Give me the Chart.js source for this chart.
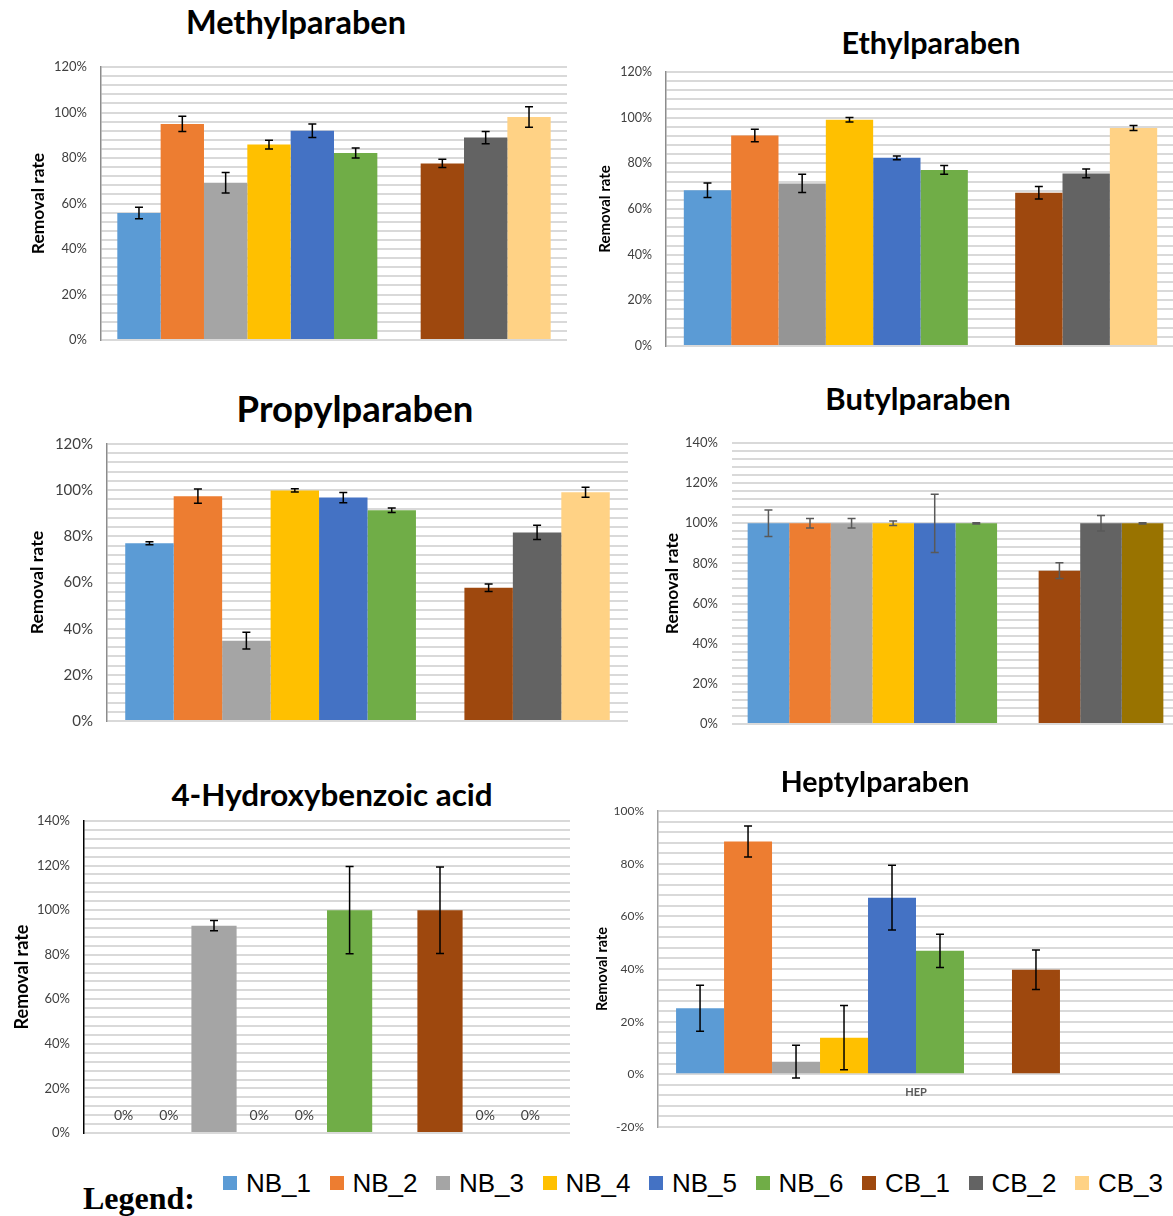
<!DOCTYPE html>
<html>
<head>
<meta charset="utf-8">
<title>Removal rates</title>
<script src="https://cdn.jsdelivr.net/npm/chart.js@4.4.1/dist/chart.umd.min.js"></script>
<style>
  html, body { margin: 0; padding: 0; background: #fff; }
  body { position: relative; width: 1173px; height: 1216px; overflow: hidden; font-family: Lato, 'Open Sans', sans-serif; }
  canvas.panel { position: absolute; }
  .ptitle { position: absolute; width: 600px; text-align: center; font-weight: bold; color: #000; white-space: nowrap; }
  #legend { position: absolute; left: 223px; top: 1168px; display: flex; }
  .item { width: 106.5px; display: flex; align-items: center; font-family: 'Liberation Sans Narrow', 'Arial Narrow', sans-serif; font-size: 26px; line-height: 30px; color: #000; }
  .sw { width: 14px; height: 14px; margin-right: 9px; flex: none; }
  #legendWord { position: absolute; left: 83px; top: 1182px; font-family: 'Liberation Serif', 'Times New Roman', serif; font-weight: bold; font-size: 32px; line-height: 32px; }
</style>
</head>
<body>
<div id="legendWord">Legend:</div>
<div id="legend"></div>
<script>
// series shown in every panel (NB = one treatment group, CB = the other)
const seriesNames = ['NB_1', 'NB_2', 'NB_3', 'NB_4', 'NB_5', 'NB_6', 'CB_1', 'CB_2', 'CB_3'];
const seriesColors = ['#5B9BD5', '#ED7D31', '#A5A5A5', '#FFC000', '#4472C4', '#70AD47', '#9E480E', '#636363', '#FFD285'];

// removal rate in % and its error bar (+/- %), in the order of seriesNames
const methylRates = [55.8, 95.0, 69.1, 85.9, 92.0, 82.2, 77.6, 89.0, 98.0];
const methylErr   = [2.5, 3.4, 4.5, 1.9, 3.0, 2.2, 1.8, 2.7, 4.5];
const ethylRates  = [68.2, 92.2, 71.2, 99.1, 82.4, 77.1, 67.1, 75.6, 95.5];
const ethylErr    = [3.2, 2.7, 4.0, 1.0, 0.8, 1.9, 2.7, 1.9, 1.1];
const propylRates = [77.0, 97.4, 34.8, 99.9, 96.8, 91.3, 57.7, 81.7, 99.1];
const propylErr   = [0.6, 3.1, 3.6, 0.7, 2.2, 1.0, 1.6, 3.1, 2.2];
const butylRates  = [100, 100, 100, 100, 100, 100, 76.4, 100, 100];
const butylErr    = [6.6, 2.4, 2.4, 1.1, 14.5, 0.3, 3.9, 3.9, 0.3];
const hbaRates    = [0, 0, 93.0, 0, 0, 100, 100, 0, 0];
const hbaErr      = [0, 0, 2.3, 0, 0, 19.6, 19.4, 0, 0];
const heptylRates = [25.1, 88.4, 4.8, 13.9, 67.1, 46.9, 39.7, null, null];
const heptylErr   = [8.7, 5.9, 6.2, 12.2, 12.3, 6.3, 7.5, null, null];

// y axis ranges (%), labelled every 20 %, gridlines every 4 %
const methylRange = [0, 120];
const ethylRange  = [0, 120];
const propylRange = [0, 120];
const butylRange  = [0, 140];
const hbaRange    = [0, 140];
const heptylRange = [-20, 100];
const yAxisTitle = 'Removal rate';

// legend
const legendEl = document.getElementById('legend');
seriesNames.forEach((name, i) => {
  const it = document.createElement('div');
  it.className = 'item';
  it.innerHTML = '<span class="sw" style="background:' + seriesColors[i] + '"></span><span>' + name + '</span>';
  legendEl.appendChild(it);
});

function buildDatasets(rates, errs, colors) {
  const sets = [];
  seriesNames.forEach((name, i) => {
    // empty slot between the NB and CB groups
    if (i === 6) sets.push({ label: '', data: [null], backgroundColor: 'rgba(0,0,0,0)' });
    sets.push({ label: name, data: [rates[i]], errors: [errs[i]], backgroundColor: colors[i], borderWidth: 0 });
  });
  return sets;
}

const errorBarPlugin = {
  id: 'errorBars',
  afterDatasetsDraw(chart, args, opts) {
    const ctx = chart.ctx, y = chart.scales.y;
    ctx.save();
    ctx.strokeStyle = opts.color || '#000';
    ctx.lineWidth = 1.5;
    chart.data.datasets.forEach((ds, i) => {
      if (!ds.errors) return;
      const v = ds.data[0], e = ds.errors[0];
      if (v == null || !e) return;
      const bar = chart.getDatasetMeta(i).data[0];
      const yt = y.getPixelForValue(v + e), yb = y.getPixelForValue(v - e);
      ctx.beginPath();
      ctx.moveTo(bar.x, yt); ctx.lineTo(bar.x, yb);
      ctx.moveTo(bar.x - 4, yt); ctx.lineTo(bar.x + 4, yt);
      ctx.moveTo(bar.x - 4, yb); ctx.lineTo(bar.x + 4, yb);
      ctx.stroke();
    });
    ctx.restore();
  }
};

const zeroLabelPlugin = {
  id: 'zeroLabels',
  afterDatasetsDraw(chart, args, opts) {
    if (!opts.show) return;
    const ctx = chart.ctx, y = chart.scales.y;
    ctx.save();
    ctx.fillStyle = '#404040';
    ctx.font = '14px Lato';
    ctx.textAlign = 'center';
    ctx.textBaseline = 'middle';
    chart.data.datasets.forEach((ds, i) => {
      if (ds.data[0] !== 0) return;
      const bar = chart.getDatasetMeta(i).data[0];
      ctx.fillText('0%', bar.x, y.getPixelForValue(0) - 18);
    });
    ctx.restore();
  }
};

// plot = pixel box of the chart area; canvas spans from boxLeft to boxRight
const panels = [
  { title: 'Methylparaben', rates: methylRates, errs: methylErr, range: methylRange,
    boxLeft: 0, boxRight: 590, plot: { l: 101, r: 567, t: 67, b: 340 },
    titleAt: [296, 21], titleSize: 32.5, axisTitleX: 38, axisTitleSize: 17.4, tickSize: 13, axisLine: '#8c8c8c' },
  { title: 'Ethylparaben', rates: ethylRates, errs: ethylErr, range: ethylRange, colors: { 2: '#959595' },
    boxLeft: 590, boxRight: 1190, plot: { l: 666, r: 1175, t: 72, b: 346 },
    titleAt: [931, 42], titleSize: 30.5, axisTitleX: 605, axisTitleSize: 15, tickSize: 12.5, axisLine: '#8c8c8c' },
  { title: 'Propylparaben', rates: propylRates, errs: propylErr, range: propylRange,
    boxLeft: 0, boxRight: 640, plot: { l: 107, r: 628, t: 444, b: 721 },
    titleAt: [355, 409], titleSize: 36.5, axisTitleX: 37, axisTitleSize: 17.8, tickSize: 15, axisLine: '#8c8c8c' },
  { title: 'Butylparaben', rates: butylRates, errs: butylErr, range: butylRange, colors: { 8: '#997300' },
    boxLeft: 650, boxRight: 1190, plot: { l: 732, r: 1179, t: 443, b: 724 },
    titleAt: [918, 399], titleSize: 31, axisTitleX: 672, axisTitleSize: 17.4, tickSize: 13, axisLine: null, errColor: '#595959' },
  { title: '4-Hydroxybenzoic acid', rates: hbaRates, errs: hbaErr, range: hbaRange, zeroLabels: true,
    boxLeft: 0, boxRight: 590, plot: { l: 84, r: 570, t: 821, b: 1133 },
    titleAt: [332, 795], titleSize: 31.4, axisTitleX: 22, axisTitleSize: 18, tickSize: 13, axisLine: '#000' },
  { title: 'Heptylparaben', rates: heptylRates, errs: heptylErr, range: heptylRange, category: 'HEP',
    boxLeft: 590, boxRight: 1190, plot: { l: 658, r: 1174, t: 811, b: 1127 },
    titleAt: [875, 781], titleSize: 28.5, axisTitleX: 602, axisTitleSize: 14.4, tickSize: 12, axisLine: '#a0a0a0' }
];

const vMargin = 26; // room above/below the plot for the outer tick labels

panels.forEach(p => {
  const t = document.createElement('div');
  t.className = 'ptitle';
  t.textContent = p.title;
  t.style.left = (p.titleAt[0] - 300) + 'px';
  t.style.top = (p.titleAt[1] - p.titleSize * 0.6) + 'px';
  t.style.fontSize = p.titleSize + 'px';
  t.style.lineHeight = (p.titleSize * 1.2) + 'px';
  document.body.appendChild(t);

  const top = p.plot.t - vMargin, bottom = p.plot.b + vMargin;
  const c = document.createElement('canvas');
  c.className = 'panel';
  c.width = p.boxRight - p.boxLeft;
  c.height = bottom - top;
  c.style.left = p.boxLeft + 'px';
  c.style.top = top + 'px';
  document.body.appendChild(c);

  const colors = seriesColors.map((col, i) => (p.colors && p.colors[i]) || col);
  const yW = p.plot.l - p.boxLeft;

  new Chart(c, {
    type: 'bar',
    data: { labels: [p.category || ''], datasets: buildDatasets(p.rates, p.errs, colors) },
    options: {
      responsive: false,
      animation: false,
      devicePixelRatio: 1,
      layout: { padding: { left: 0, top: vMargin, right: p.boxRight - p.plot.r, bottom: vMargin } },
      datasets: { bar: { categoryPercentage: 0.93, barPercentage: 1 } },
      plugins: {
        legend: { display: false },
        tooltip: { enabled: false },
        errorBars: { color: p.errColor || '#000' },
        zeroLabels: { show: !!p.zeroLabels }
      },
      scales: {
        x: p.category ? {
          position: { y: 0 },
          grid: { display: false },
          border: { display: false },
          ticks: { padding: 4, color: '#595959', font: { family: 'Lato', size: 11, weight: 'bold' } }
        } : { display: false },
        y: {
          min: p.range[0],
          max: p.range[1],
          afterFit: s => { s.width = yW; },
          ticks: {
            stepSize: 4,
            autoSkip: false,
            padding: 14,
            color: '#404040',
            font: { family: 'Lato', size: p.tickSize },
            callback: v => (Math.round(v) % 20 === 0 ? Math.round(v) + '%' : '')
          },
          grid: { color: '#d9d9d9', lineWidth: 2, drawTicks: false },
          border: p.axisLine ? { display: true, color: p.axisLine, width: 1.5 } : { display: false },
          title: {
            display: true,
            text: yAxisTitle,
            color: '#000',
            font: { family: 'Lato', size: p.axisTitleSize, weight: 'bold' },
            padding: { top: p.axisTitleX - p.boxLeft - p.axisTitleSize * 0.6, bottom: 0 }
          }
        }
      }
    },
    plugins: [errorBarPlugin, zeroLabelPlugin]
  });
});
</script>
</body>
</html>
